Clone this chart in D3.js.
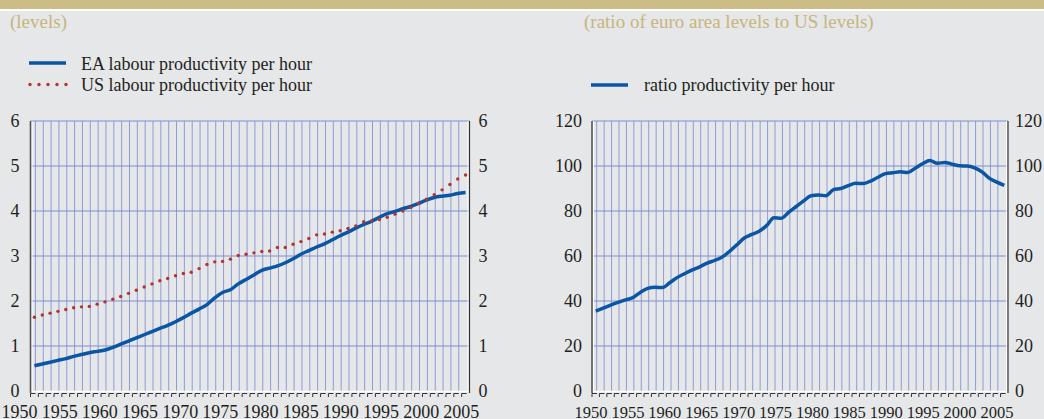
<!DOCTYPE html>
<html>
<head>
<meta charset="utf-8">
<script src="https://cdn.jsdelivr.net/npm/d3@7"></script>
<style>
  body { margin: 0; background: #e6e7e9; }
  svg { display: block; font-family: "Liberation Serif", "Times New Roman", serif; }
</style>
</head>
<body>
<svg id="chart"></svg>
<script>
// years on the category axis
const years = [1950,1951,1952,1953,1954,1955,1956,1957,1958,1959,
  1960,1961,1962,1963,1964,1965,1966,1967,1968,1969,
  1970,1971,1972,1973,1974,1975,1976,1977,1978,1979,
  1980,1981,1982,1983,1984,1985,1986,1987,1988,1989,
  1990,1991,1992,1993,1994,1995,1996,1997,1998,1999,
  2000,2001,2002,2003,2004,2005];
const yearLabels = [1950,1955,1960,1965,1970,1975,1980,1985,1990,1995,2000,2005];

// left panel: levels
const eaLevels = [0.56,0.60,0.64,0.68,0.72,0.77,0.81,0.85,0.88,0.91,
  0.97,1.04,1.11,1.18,1.25,1.32,1.39,1.46,1.54,1.63,
  1.73,1.82,1.92,2.07,2.19,2.25,2.38,2.48,2.58,2.68,
  2.73,2.78,2.85,2.94,3.04,3.12,3.20,3.27,3.36,3.45,
  3.53,3.62,3.70,3.77,3.86,3.94,3.99,4.05,4.10,4.17,
  4.24,4.30,4.33,4.35,4.39,4.41];
const usLevels = [1.64,1.69,1.73,1.77,1.81,1.85,1.87,1.88,1.93,1.98,
  2.04,2.10,2.17,2.24,2.31,2.38,2.45,2.50,2.56,2.61,
  2.64,2.72,2.81,2.87,2.88,2.93,3.01,3.04,3.07,3.10,
  3.11,3.19,3.19,3.26,3.32,3.39,3.47,3.49,3.53,3.56,
  3.61,3.67,3.76,3.78,3.81,3.86,3.93,4.00,4.08,4.17,
  4.26,4.36,4.47,4.59,4.71,4.80];
const levelTicks = [0,1,2,3,4,5,6];

// right panel: ratio EA / US (US = 100)
const ratio = [35.5,36.8,38.2,39.4,40.5,41.5,43.8,45.6,46.1,46.0,
  48.2,50.5,52.2,53.8,55.2,56.8,58.0,59.5,62.0,65.0,
  68.0,69.6,71.0,73.5,77.0,76.8,79.5,82.0,84.5,86.8,
  87.1,86.8,89.5,90.0,91.3,92.3,92.2,93.3,95.0,96.6,
  97.0,97.4,97.1,99.0,101.0,102.4,101.2,101.6,100.8,100.1,
  100.0,99.2,97.4,94.5,92.8,91.4];
const ratioTicks = [0,20,40,60,80,100,120];

const width = 1044, height = 419;
const blue = "#0b56a4", red = "#b2342f", gold = "#c6b57c", ink = "#231f20";
const gridCol = "#8e9cd6";
const plotTop = 121, plotBottom = 391;

const svg = d3.select("#chart").attr("width", width).attr("height", height);

svg.append("rect").attr("width", width).attr("height", height).attr("fill", "#e6e7e9");
svg.append("rect").attr("width", width).attr("height", 9).attr("fill", "#cbbd85");
svg.append("rect").attr("y", 9).attr("width", width).attr("height", 2).attr("fill", "#ffffff");

function panel(opt) {
  const y = d3.scaleLinear().domain([0, opt.yMax]).range([plotBottom, plotTop]);
  const band = d3.scaleBand().domain(years).range([opt.x0, opt.x1]);
  const x = d3.scalePoint().domain(years).range([opt.x0 + band.step() / 2, opt.x1 - band.step() / 2]);
  const lx = d3.scalePoint().domain(yearLabels).range(opt.labelRange);
  const g = svg.append("g");

  // vertical grid
  g.append("g").selectAll("line").data(years.slice(0, -1)).join("line")
    .attr("x1", d => x(d) + 1).attr("x2", d => x(d) + 1)
    .attr("y1", plotTop).attr("y2", plotBottom)
    .attr("stroke", gridCol).attr("stroke-width", 1);

  // horizontal grid
  g.append("g").selectAll("line").data(opt.ticks.slice(1)).join("line")
    .attr("x1", opt.x0).attr("x2", opt.x1)
    .attr("y1", d => y(d)).attr("y2", d => y(d))
    .attr("stroke", "#8090cf").attr("stroke-width", 1.2);

  // white frame
  g.append("line").attr("x1", opt.x0).attr("x2", opt.x1).attr("y1", plotBottom + 0.5).attr("y2", plotBottom + 0.5)
    .attr("stroke", "#fff").attr("stroke-width", 1.5);
  g.append("line").attr("x1", opt.x0 + 1.5).attr("x2", opt.x0 + 1.5).attr("y1", plotTop).attr("y2", plotBottom)
    .attr("stroke", "#fff").attr("stroke-width", 1);
  g.append("line").attr("x1", opt.x1 - 1.5).attr("x2", opt.x1 - 1.5).attr("y1", plotTop).attr("y2", plotBottom)
    .attr("stroke", "#fff").attr("stroke-width", 1);

  // axis lines
  g.append("line").attr("x1", opt.x0).attr("x2", opt.x0).attr("y1", plotTop).attr("y2", plotBottom + 2)
    .attr("stroke", "#555").attr("stroke-width", 1.6);
  g.append("line").attr("x1", opt.x1).attr("x2", opt.x1).attr("y1", plotTop).attr("y2", plotBottom + 2)
    .attr("stroke", "#333").attr("stroke-width", 1.2);

  // little hook ticks under the plot
  g.append("g").selectAll("path").data(years).join("path")
    .attr("d", d => `M${band(d)},397V393.5H${band(d) + 5}`)
    .attr("fill", "none").attr("stroke", "#333").attr("stroke-width", 1);

  // y labels both sides
  const yl = g.append("g").attr("transform", `translate(${opt.x0},0)`)
    .call(d3.axisLeft(y).tickValues(opt.ticks).tickFormat(d3.format("d")).tickSize(0).tickPadding(opt.padL));
  const yr = g.append("g").attr("transform", `translate(${opt.x1},0)`)
    .call(d3.axisRight(y).tickValues(opt.ticks).tickFormat(d3.format("d")).tickSize(0).tickPadding(opt.padR));
  [yl, yr].forEach(a => {
    a.select(".domain").remove();
    a.selectAll("text").attr("font-size", 18).attr("fill", ink)
      .attr("font-family", "Liberation Serif, serif");
  });

  // x labels
  g.append("g").selectAll("text").data(yearLabels).join("text")
    .attr("x", d => lx(d)).attr("y", 418)
    .attr("text-anchor", "middle").attr("font-size", opt.xFont).attr("fill", ink)
    .text(d => d);

  return { x, y, g };
}

// left panel
const L = panel({ x0: 30.5, x1: 469.5, yMax: 6, ticks: levelTicks, padL: 11, padR: 9,
  labelRange: [19.5, 461.3], xFont: 18 });
L.g.append("path").datum(eaLevels)
  .attr("d", d3.line().x((d, i) => L.x(years[i])).y(d => L.y(d)).curve(d3.curveMonotoneX))
  .attr("fill", "none").attr("stroke", blue).attr("stroke-width", 3.5);
L.g.append("g").selectAll("circle").data(usLevels).join("circle")
  .attr("cx", (d, i) => L.x(years[i])).attr("cy", d => L.y(d)).attr("r", 1.7).attr("fill", red);

// right panel
const R = panel({ x0: 592, x1: 1008, yMax: 120, ticks: ratioTicks, padL: 10, padR: 7,
  labelRange: [591, 997], xFont: 16.5 });
R.g.append("path").datum(ratio)
  .attr("d", d3.line().x((d, i) => R.x(years[i])).y(d => R.y(d)).curve(d3.curveMonotoneX))
  .attr("fill", "none").attr("stroke", blue).attr("stroke-width", 3.5);

// subtitles
svg.append("text").attr("x", 10).attr("y", 28).attr("font-size", 19).attr("fill", gold).text("(levels)");
svg.append("text").attr("x", 584).attr("y", 28).attr("font-size", 19).attr("fill", gold)
  .text("(ratio of euro area levels to US levels)");

// legends
svg.append("line").attr("x1", 29).attr("x2", 66).attr("y1", 63).attr("y2", 63)
  .attr("stroke", blue).attr("stroke-width", 3.5);
svg.append("text").attr("x", 81).attr("y", 69.5).attr("font-size", 18).attr("fill", ink)
  .text("EA labour productivity per hour");
svg.append("g").selectAll("circle").data([0, 1, 2, 3, 4]).join("circle")
  .attr("cx", d => 30 + d * 9).attr("cy", 84.5).attr("r", 1.7).attr("fill", red);
svg.append("text").attr("x", 81).attr("y", 90.5).attr("font-size", 18).attr("fill", ink)
  .text("US labour productivity per hour");

svg.append("line").attr("x1", 591).attr("x2", 628).attr("y1", 85).attr("y2", 85)
  .attr("stroke", blue).attr("stroke-width", 3.5);
svg.append("text").attr("x", 644).attr("y", 90.5).attr("font-size", 18).attr("fill", ink)
  .text("ratio productivity per hour");
</script>
</body>
</html>
